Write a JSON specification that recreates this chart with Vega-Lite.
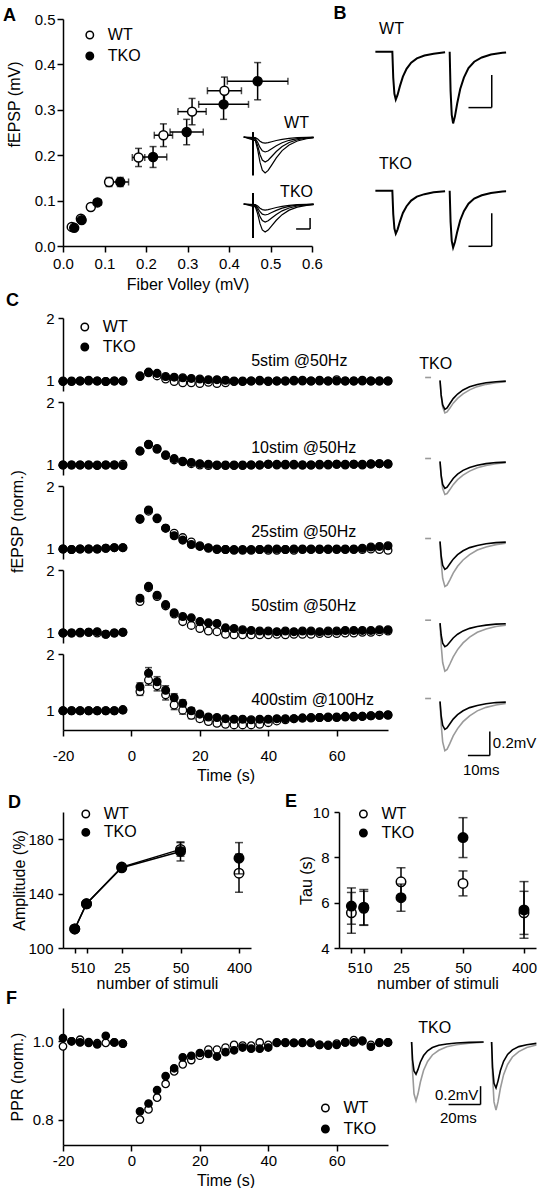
{
"$schema":"https://vega.github.io/schema/vega-lite/v6.json",
"background":"white",
"padding":{"left":3,"top":4,"right":0,"bottom":0},
"config":{
 "font":"Liberation Sans",
 "view":{"stroke":null},
 "axis":{"domainColor":"black","domainWidth":1.5,"tickColor":"black","tickWidth":1.5,"tickSize":5,"labelColor":"black","labelFontSize":15,"titleColor":"black","titleFontSize":16,"titleFontWeight":"normal","grid":false,"labelFlush":false,"labelOverlap":false},
 "legend":{"orient":"none","title":null,"symbolType":"circle","symbolSize":55,"symbolStrokeColor":"black","symbolStrokeWidth":1.5,"labelFontSize":16,"labelColor":"black","labelOffset":10,"padding":0,"rowPadding":4},
 "title":{"fontSize":18,"fontWeight":"bold","anchor":"start","frame":"bounds","color":"black"},
 "text":{"color":"black"}
},
"datasets":{
"a":[
{"g":"WT","x":0.021,"y":0.042,"xe":0,"ye":0},{"g":"WT","x":0.043,"y":0.06,"xe":0,"ye":0},{"g":"WT","x":0.067,"y":0.086,"xe":0.004,"ye":0.004},{"g":"WT","x":0.111,"y":0.141,"xe":0.008,"ye":0.01},{"g":"WT","x":0.182,"y":0.195,"xe":0.015,"ye":0.02},{"g":"WT","x":0.242,"y":0.244,"xe":0.022,"ye":0.025},{"g":"WT","x":0.311,"y":0.296,"xe":0.034,"ye":0.029},{"g":"WT","x":0.389,"y":0.342,"xe":0.041,"ye":0.03},
{"g":"TKO","x":0.027,"y":0.04,"xe":0,"ye":0},{"g":"TKO","x":0.045,"y":0.057,"xe":0,"ye":0},{"g":"TKO","x":0.083,"y":0.096,"xe":0.008,"ye":0.005},{"g":"TKO","x":0.138,"y":0.141,"xe":0.02,"ye":0.01},{"g":"TKO","x":0.217,"y":0.196,"xe":0.033,"ye":0.023},{"g":"TKO","x":0.298,"y":0.251,"xe":0.04,"ye":0.028},{"g":"TKO","x":0.387,"y":0.312,"xe":0.06,"ye":0.033},{"g":"TKO","x":0.469,"y":0.363,"xe":0.073,"ye":0.041}
],
"ai":[
{"g":"WT","a":1,"t":-4,"v":0},{"g":"WT","a":1,"t":1,"v":-0.006},{"g":"WT","a":1,"t":2,"v":-0.019},{"g":"WT","a":1,"t":3,"v":-0.039},{"g":"WT","a":1,"t":4,"v":-0.051},{"g":"WT","a":1,"t":5.2,"v":-0.055},{"g":"WT","a":1,"t":6.5,"v":-0.051},{"g":"WT","a":1,"t":8,"v":-0.043},{"g":"WT","a":1,"t":10,"v":-0.032},{"g":"WT","a":1,"t":12.5,"v":-0.021},{"g":"WT","a":1,"t":15.5,"v":-0.012},{"g":"WT","a":1,"t":19,"v":-0.006},{"g":"WT","a":1,"t":23,"v":-0.003},{"g":"WT","a":1,"t":26,"v":-0.001},
{"g":"WT","a":2,"t":-4,"v":0},{"g":"WT","a":2,"t":1,"v":-0.014},{"g":"WT","a":2,"t":2,"v":-0.048},{"g":"WT","a":2,"t":3,"v":-0.095},{"g":"WT","a":2,"t":4,"v":-0.125},{"g":"WT","a":2,"t":5.2,"v":-0.136},{"g":"WT","a":2,"t":6.5,"v":-0.127},{"g":"WT","a":2,"t":8,"v":-0.106},{"g":"WT","a":2,"t":10,"v":-0.079},{"g":"WT","a":2,"t":12.5,"v":-0.052},{"g":"WT","a":2,"t":15.5,"v":-0.03},{"g":"WT","a":2,"t":19,"v":-0.015},{"g":"WT","a":2,"t":23,"v":-0.007},{"g":"WT","a":2,"t":26,"v":-0.003},
{"g":"WT","a":3,"t":-4,"v":0},{"g":"WT","a":3,"t":1,"v":-0.023},{"g":"WT","a":3,"t":2,"v":-0.079},{"g":"WT","a":3,"t":3,"v":-0.159},{"g":"WT","a":3,"t":4,"v":-0.209},{"g":"WT","a":3,"t":5.2,"v":-0.227},{"g":"WT","a":3,"t":6.5,"v":-0.211},{"g":"WT","a":3,"t":8,"v":-0.177},{"g":"WT","a":3,"t":10,"v":-0.132},{"g":"WT","a":3,"t":12.5,"v":-0.086},{"g":"WT","a":3,"t":15.5,"v":-0.05},{"g":"WT","a":3,"t":19,"v":-0.025},{"g":"WT","a":3,"t":23,"v":-0.011},{"g":"WT","a":3,"t":26,"v":-0.005},
{"g":"WT","a":4,"t":-4,"v":0},{"g":"WT","a":4,"t":1,"v":-0.033},{"g":"WT","a":4,"t":2,"v":-0.114},{"g":"WT","a":4,"t":3,"v":-0.229},{"g":"WT","a":4,"t":4,"v":-0.301},{"g":"WT","a":4,"t":5.2,"v":-0.327},{"g":"WT","a":4,"t":6.5,"v":-0.304},{"g":"WT","a":4,"t":8,"v":-0.255},{"g":"WT","a":4,"t":10,"v":-0.19},{"g":"WT","a":4,"t":12.5,"v":-0.124},{"g":"WT","a":4,"t":15.5,"v":-0.072},{"g":"WT","a":4,"t":19,"v":-0.036},{"g":"WT","a":4,"t":23,"v":-0.016},{"g":"WT","a":4,"t":26,"v":-0.007},
{"g":"TKO","a":1,"t":-4,"v":0},{"g":"TKO","a":1,"t":1,"v":-0.006},{"g":"TKO","a":1,"t":2,"v":-0.019},{"g":"TKO","a":1,"t":3,"v":-0.039},{"g":"TKO","a":1,"t":4,"v":-0.051},{"g":"TKO","a":1,"t":5.2,"v":-0.055},{"g":"TKO","a":1,"t":6.5,"v":-0.051},{"g":"TKO","a":1,"t":8,"v":-0.043},{"g":"TKO","a":1,"t":10,"v":-0.032},{"g":"TKO","a":1,"t":12.5,"v":-0.021},{"g":"TKO","a":1,"t":15.5,"v":-0.012},{"g":"TKO","a":1,"t":19,"v":-0.006},{"g":"TKO","a":1,"t":23,"v":-0.003},{"g":"TKO","a":1,"t":26,"v":-0.001},
{"g":"TKO","a":2,"t":-4,"v":0},{"g":"TKO","a":2,"t":1,"v":-0.01},{"g":"TKO","a":2,"t":2,"v":-0.035},{"g":"TKO","a":2,"t":3,"v":-0.07},{"g":"TKO","a":2,"t":4,"v":-0.092},{"g":"TKO","a":2,"t":5.2,"v":-0.1},{"g":"TKO","a":2,"t":6.5,"v":-0.093},{"g":"TKO","a":2,"t":8,"v":-0.078},{"g":"TKO","a":2,"t":10,"v":-0.058},{"g":"TKO","a":2,"t":12.5,"v":-0.038},{"g":"TKO","a":2,"t":15.5,"v":-0.022},{"g":"TKO","a":2,"t":19,"v":-0.011},{"g":"TKO","a":2,"t":23,"v":-0.005},{"g":"TKO","a":2,"t":26,"v":-0.002},
{"g":"TKO","a":3,"t":-4,"v":0},{"g":"TKO","a":3,"t":1,"v":-0.016},{"g":"TKO","a":3,"t":2,"v":-0.057},{"g":"TKO","a":3,"t":3,"v":-0.115},{"g":"TKO","a":3,"t":4,"v":-0.151},{"g":"TKO","a":3,"t":5.2,"v":-0.164},{"g":"TKO","a":3,"t":6.5,"v":-0.153},{"g":"TKO","a":3,"t":8,"v":-0.128},{"g":"TKO","a":3,"t":10,"v":-0.095},{"g":"TKO","a":3,"t":12.5,"v":-0.062},{"g":"TKO","a":3,"t":15.5,"v":-0.036},{"g":"TKO","a":3,"t":19,"v":-0.018},{"g":"TKO","a":3,"t":23,"v":-0.008},{"g":"TKO","a":3,"t":26,"v":-0.003},
{"g":"TKO","a":4,"t":-4,"v":0},{"g":"TKO","a":4,"t":1,"v":-0.026},{"g":"TKO","a":4,"t":2,"v":-0.089},{"g":"TKO","a":4,"t":3,"v":-0.179},{"g":"TKO","a":4,"t":4,"v":-0.235},{"g":"TKO","a":4,"t":5.2,"v":-0.255},{"g":"TKO","a":4,"t":6.5,"v":-0.237},{"g":"TKO","a":4,"t":8,"v":-0.199},{"g":"TKO","a":4,"t":10,"v":-0.148},{"g":"TKO","a":4,"t":12.5,"v":-0.097},{"g":"TKO","a":4,"t":15.5,"v":-0.056},{"g":"TKO","a":4,"t":19,"v":-0.028},{"g":"TKO","a":4,"t":23,"v":-0.013},{"g":"TKO","a":4,"t":26,"v":-0.005}
],
"bt":[
{"g":"WT","s":1,"t":-7.4,"v":0},{"g":"WT","s":1,"t":0,"v":0},{"g":"WT","s":1,"t":0.4,"v":-0.16},{"g":"WT","s":1,"t":0.9,"v":-0.255},{"g":"WT","s":1,"t":1.5,"v":-0.29},{"g":"WT","s":1,"t":2.3,"v":-0.261},{"g":"WT","s":1,"t":3.3,"v":-0.209},{"g":"WT","s":1,"t":4.6,"v":-0.151},{"g":"WT","s":1,"t":6.2,"v":-0.104},{"g":"WT","s":1,"t":8.2,"v":-0.067},{"g":"WT","s":1,"t":10.7,"v":-0.041},{"g":"WT","s":1,"t":14,"v":-0.023},{"g":"WT","s":1,"t":18,"v":-0.012},{"g":"WT","s":1,"t":23,"v":-0.004},
{"g":"WT","s":2,"t":25,"v":0},{"g":"WT","s":2,"t":25.4,"v":-0.239},{"g":"WT","s":2,"t":25.9,"v":-0.383},{"g":"WT","s":2,"t":26.5,"v":-0.435},{"g":"WT","s":2,"t":27.3,"v":-0.392},{"g":"WT","s":2,"t":28.3,"v":-0.313},{"g":"WT","s":2,"t":29.6,"v":-0.226},{"g":"WT","s":2,"t":31.2,"v":-0.157},{"g":"WT","s":2,"t":33.2,"v":-0.1},{"g":"WT","s":2,"t":35.7,"v":-0.061},{"g":"WT","s":2,"t":39,"v":-0.035},{"g":"WT","s":2,"t":43,"v":-0.017},{"g":"WT","s":2,"t":48,"v":-0.007},{"g":"WT","s":2,"t":49.6,"v":-0.005},
{"g":"TKO","s":1,"t":-7.4,"v":0},{"g":"TKO","s":1,"t":0,"v":0},{"g":"TKO","s":1,"t":0.4,"v":-0.143},{"g":"TKO","s":1,"t":0.9,"v":-0.229},{"g":"TKO","s":1,"t":1.5,"v":-0.26},{"g":"TKO","s":1,"t":2.3,"v":-0.234},{"g":"TKO","s":1,"t":3.3,"v":-0.187},{"g":"TKO","s":1,"t":4.6,"v":-0.135},{"g":"TKO","s":1,"t":6.2,"v":-0.094},{"g":"TKO","s":1,"t":8.2,"v":-0.06},{"g":"TKO","s":1,"t":10.7,"v":-0.036},{"g":"TKO","s":1,"t":14,"v":-0.021},{"g":"TKO","s":1,"t":18,"v":-0.01},{"g":"TKO","s":1,"t":23,"v":-0.004},
{"g":"TKO","s":2,"t":25,"v":0},{"g":"TKO","s":2,"t":25.4,"v":-0.19},{"g":"TKO","s":2,"t":25.9,"v":-0.304},{"g":"TKO","s":2,"t":26.5,"v":-0.345},{"g":"TKO","s":2,"t":27.3,"v":-0.311},{"g":"TKO","s":2,"t":28.3,"v":-0.248},{"g":"TKO","s":2,"t":29.6,"v":-0.179},{"g":"TKO","s":2,"t":31.2,"v":-0.124},{"g":"TKO","s":2,"t":33.2,"v":-0.079},{"g":"TKO","s":2,"t":35.7,"v":-0.048},{"g":"TKO","s":2,"t":39,"v":-0.028},{"g":"TKO","s":2,"t":43,"v":-0.014},{"g":"TKO","s":2,"t":48,"v":-0.005},{"g":"TKO","s":2,"t":49.6,"v":-0.004}
],
"c":[
{"r":1,"g":"WT","t":-20,"y":1},{"r":1,"g":"WT","t":-17.5,"y":0.99},{"r":1,"g":"WT","t":-15,"y":1},{"r":1,"g":"WT","t":-12.5,"y":1},{"r":1,"g":"WT","t":-10,"y":1},{"r":1,"g":"WT","t":-7.5,"y":0.99},{"r":1,"g":"WT","t":-5,"y":1},{"r":1,"g":"WT","t":-2.5,"y":1},
{"r":1,"g":"WT","t":2.5,"y":1.08},{"r":1,"g":"WT","t":5,"y":1.13},{"r":1,"g":"WT","t":7.5,"y":1.08},{"r":1,"g":"WT","t":10,"y":1.03},{"r":1,"g":"WT","t":12.5,"y":0.99},{"r":1,"g":"WT","t":15,"y":0.97},{"r":1,"g":"WT","t":17.5,"y":0.97},{"r":1,"g":"WT","t":20,"y":0.96},{"r":1,"g":"WT","t":22.5,"y":0.98},{"r":1,"g":"WT","t":25,"y":0.96},{"r":1,"g":"WT","t":27.5,"y":0.97},{"r":1,"g":"WT","t":30,"y":0.99},{"r":1,"g":"WT","t":32.5,"y":0.99},{"r":1,"g":"WT","t":35,"y":1},{"r":1,"g":"WT","t":37.5,"y":1},{"r":1,"g":"WT","t":40,"y":0.99},{"r":1,"g":"WT","t":42.5,"y":1},{"r":1,"g":"WT","t":45,"y":1},{"r":1,"g":"WT","t":47.5,"y":1},{"r":1,"g":"WT","t":50,"y":1.01},{"r":1,"g":"WT","t":52.5,"y":1},{"r":1,"g":"WT","t":55,"y":1},{"r":1,"g":"WT","t":57.5,"y":1},{"r":1,"g":"WT","t":60,"y":1.02},{"r":1,"g":"WT","t":62.5,"y":1},{"r":1,"g":"WT","t":65,"y":1},{"r":1,"g":"WT","t":67.5,"y":1.01},{"r":1,"g":"WT","t":70,"y":1},{"r":1,"g":"WT","t":72.5,"y":1},{"r":1,"g":"WT","t":75,"y":1},
{"r":1,"g":"TKO","t":-20,"y":0.99},{"r":1,"g":"TKO","t":-17.5,"y":1},{"r":1,"g":"TKO","t":-15,"y":1},{"r":1,"g":"TKO","t":-12.5,"y":1.01},{"r":1,"g":"TKO","t":-10,"y":1},{"r":1,"g":"TKO","t":-7.5,"y":0.99},{"r":1,"g":"TKO","t":-5,"y":1},{"r":1,"g":"TKO","t":-2.5,"y":1},
{"r":1,"g":"TKO","t":2.5,"y":1.07},{"r":1,"g":"TKO","t":5,"y":1.14},{"r":1,"g":"TKO","t":7.5,"y":1.12},{"r":1,"g":"TKO","t":10,"y":1.07},{"r":1,"g":"TKO","t":12.5,"y":1.06},{"r":1,"g":"TKO","t":15,"y":1.05},{"r":1,"g":"TKO","t":17.5,"y":1.04},{"r":1,"g":"TKO","t":20,"y":1.03},{"r":1,"g":"TKO","t":22.5,"y":1.02},{"r":1,"g":"TKO","t":25,"y":1.02},{"r":1,"g":"TKO","t":27.5,"y":1.01},{"r":1,"g":"TKO","t":30,"y":1},{"r":1,"g":"TKO","t":32.5,"y":1},{"r":1,"g":"TKO","t":35,"y":1},{"r":1,"g":"TKO","t":37.5,"y":1.01},{"r":1,"g":"TKO","t":40,"y":1},{"r":1,"g":"TKO","t":42.5,"y":1},{"r":1,"g":"TKO","t":45,"y":1},{"r":1,"g":"TKO","t":47.5,"y":1.01},{"r":1,"g":"TKO","t":50,"y":1},{"r":1,"g":"TKO","t":52.5,"y":1},{"r":1,"g":"TKO","t":55,"y":1.01},{"r":1,"g":"TKO","t":57.5,"y":1},{"r":1,"g":"TKO","t":60,"y":1},{"r":1,"g":"TKO","t":62.5,"y":1},{"r":1,"g":"TKO","t":65,"y":1},{"r":1,"g":"TKO","t":67.5,"y":1},{"r":1,"g":"TKO","t":70,"y":1},{"r":1,"g":"TKO","t":72.5,"y":1},{"r":1,"g":"TKO","t":75,"y":1},
{"r":2,"g":"WT","t":-20,"y":1},{"r":2,"g":"WT","t":-17.5,"y":1},{"r":2,"g":"WT","t":-15,"y":1},{"r":2,"g":"WT","t":-12.5,"y":1},{"r":2,"g":"WT","t":-10,"y":1},{"r":2,"g":"WT","t":-7.5,"y":1},{"r":2,"g":"WT","t":-5,"y":1},{"r":2,"g":"WT","t":-2.5,"y":1.01},
{"r":2,"g":"WT","t":2.5,"y":1.22},{"r":2,"g":"WT","t":5,"y":1.32},{"r":2,"g":"WT","t":7.5,"y":1.25},{"r":2,"g":"WT","t":10,"y":1.15},{"r":2,"g":"WT","t":12.5,"y":1.08},{"r":2,"g":"WT","t":15,"y":1.05},{"r":2,"g":"WT","t":17.5,"y":1.02},{"r":2,"g":"WT","t":20,"y":1},{"r":2,"g":"WT","t":22.5,"y":0.99},{"r":2,"g":"WT","t":25,"y":0.99},{"r":2,"g":"WT","t":27.5,"y":0.99},{"r":2,"g":"WT","t":30,"y":0.99},{"r":2,"g":"WT","t":32.5,"y":0.99},{"r":2,"g":"WT","t":35,"y":1},{"r":2,"g":"WT","t":37.5,"y":1},{"r":2,"g":"WT","t":40,"y":1.01},{"r":2,"g":"WT","t":42.5,"y":1},{"r":2,"g":"WT","t":45,"y":1},{"r":2,"g":"WT","t":47.5,"y":1},{"r":2,"g":"WT","t":50,"y":1},{"r":2,"g":"WT","t":52.5,"y":1},{"r":2,"g":"WT","t":55,"y":1},{"r":2,"g":"WT","t":57.5,"y":1},{"r":2,"g":"WT","t":60,"y":1.01},{"r":2,"g":"WT","t":62.5,"y":1},{"r":2,"g":"WT","t":65,"y":1.01},{"r":2,"g":"WT","t":67.5,"y":1},{"r":2,"g":"WT","t":70,"y":1.01},{"r":2,"g":"WT","t":72.5,"y":1.02},{"r":2,"g":"WT","t":75,"y":1.01},
{"r":2,"g":"TKO","t":-20,"y":1},{"r":2,"g":"TKO","t":-17.5,"y":1},{"r":2,"g":"TKO","t":-15,"y":1},{"r":2,"g":"TKO","t":-12.5,"y":1},{"r":2,"g":"TKO","t":-10,"y":0.99},{"r":2,"g":"TKO","t":-7.5,"y":1},{"r":2,"g":"TKO","t":-5,"y":1},{"r":2,"g":"TKO","t":-2.5,"y":0.99},
{"r":2,"g":"TKO","t":2.5,"y":1.22},{"r":2,"g":"TKO","t":5,"y":1.33},{"r":2,"g":"TKO","t":7.5,"y":1.26},{"r":2,"g":"TKO","t":10,"y":1.16},{"r":2,"g":"TKO","t":12.5,"y":1.1},{"r":2,"g":"TKO","t":15,"y":1.06},{"r":2,"g":"TKO","t":17.5,"y":1.04},{"r":2,"g":"TKO","t":20,"y":1.02},{"r":2,"g":"TKO","t":22.5,"y":1.01},{"r":2,"g":"TKO","t":25,"y":1},{"r":2,"g":"TKO","t":27.5,"y":1},{"r":2,"g":"TKO","t":30,"y":1},{"r":2,"g":"TKO","t":32.5,"y":1},{"r":2,"g":"TKO","t":35,"y":1},{"r":2,"g":"TKO","t":37.5,"y":1},{"r":2,"g":"TKO","t":40,"y":1.01},{"r":2,"g":"TKO","t":42.5,"y":1.01},{"r":2,"g":"TKO","t":45,"y":1.01},{"r":2,"g":"TKO","t":47.5,"y":1.01},{"r":2,"g":"TKO","t":50,"y":1},{"r":2,"g":"TKO","t":52.5,"y":1},{"r":2,"g":"TKO","t":55,"y":1.01},{"r":2,"g":"TKO","t":57.5,"y":1.01},{"r":2,"g":"TKO","t":60,"y":1.01},{"r":2,"g":"TKO","t":62.5,"y":1.01},{"r":2,"g":"TKO","t":65,"y":1.01},{"r":2,"g":"TKO","t":67.5,"y":1.01},{"r":2,"g":"TKO","t":70,"y":1.02},{"r":2,"g":"TKO","t":72.5,"y":1.02},{"r":2,"g":"TKO","t":75,"y":1.02},
{"r":3,"g":"WT","t":-20,"y":1},{"r":3,"g":"WT","t":-17.5,"y":0.99},{"r":3,"g":"WT","t":-15,"y":1},{"r":3,"g":"WT","t":-12.5,"y":1},{"r":3,"g":"WT","t":-10,"y":1},{"r":3,"g":"WT","t":-7.5,"y":1.01},{"r":3,"g":"WT","t":-5,"y":1.02},{"r":3,"g":"WT","t":-2.5,"y":1.02},
{"r":3,"g":"WT","t":2.5,"y":1.47},{"r":3,"g":"WT","t":5,"y":1.6},{"r":3,"g":"WT","t":7.5,"y":1.48},{"r":3,"g":"WT","t":10,"y":1.33},{"r":3,"g":"WT","t":12.5,"y":1.25},{"r":3,"g":"WT","t":15,"y":1.18},{"r":3,"g":"WT","t":17.5,"y":1.11},{"r":3,"g":"WT","t":20,"y":1.05},{"r":3,"g":"WT","t":22.5,"y":1.01},{"r":3,"g":"WT","t":25,"y":0.99},{"r":3,"g":"WT","t":27.5,"y":0.99},{"r":3,"g":"WT","t":30,"y":0.98},{"r":3,"g":"WT","t":32.5,"y":0.98},{"r":3,"g":"WT","t":35,"y":0.98},{"r":3,"g":"WT","t":37.5,"y":0.99},{"r":3,"g":"WT","t":40,"y":0.98},{"r":3,"g":"WT","t":42.5,"y":0.98},{"r":3,"g":"WT","t":45,"y":0.99},{"r":3,"g":"WT","t":47.5,"y":0.98},{"r":3,"g":"WT","t":50,"y":0.99},{"r":3,"g":"WT","t":52.5,"y":0.99},{"r":3,"g":"WT","t":55,"y":0.99},{"r":3,"g":"WT","t":57.5,"y":0.99},{"r":3,"g":"WT","t":60,"y":0.99},{"r":3,"g":"WT","t":62.5,"y":0.99},{"r":3,"g":"WT","t":65,"y":0.99},{"r":3,"g":"WT","t":67.5,"y":0.99},{"r":3,"g":"WT","t":70,"y":1},{"r":3,"g":"WT","t":72.5,"y":0.99},{"r":3,"g":"WT","t":75,"y":0.98},
{"r":3,"g":"TKO","t":-20,"y":1},{"r":3,"g":"TKO","t":-17.5,"y":0.99},{"r":3,"g":"TKO","t":-15,"y":1},{"r":3,"g":"TKO","t":-12.5,"y":1},{"r":3,"g":"TKO","t":-10,"y":1},{"r":3,"g":"TKO","t":-7.5,"y":1.01},{"r":3,"g":"TKO","t":-5,"y":1.02},{"r":3,"g":"TKO","t":-2.5,"y":1.02},
{"r":3,"g":"TKO","t":2.5,"y":1.48},{"r":3,"g":"TKO","t":5,"y":1.62},{"r":3,"g":"TKO","t":7.5,"y":1.49},{"r":3,"g":"TKO","t":10,"y":1.33},{"r":3,"g":"TKO","t":12.5,"y":1.21},{"r":3,"g":"TKO","t":15,"y":1.14},{"r":3,"g":"TKO","t":17.5,"y":1.07},{"r":3,"g":"TKO","t":20,"y":1.04},{"r":3,"g":"TKO","t":22.5,"y":1.02},{"r":3,"g":"TKO","t":25,"y":1},{"r":3,"g":"TKO","t":27.5,"y":0.99},{"r":3,"g":"TKO","t":30,"y":0.99},{"r":3,"g":"TKO","t":32.5,"y":0.99},{"r":3,"g":"TKO","t":35,"y":0.99},{"r":3,"g":"TKO","t":37.5,"y":0.99},{"r":3,"g":"TKO","t":40,"y":1},{"r":3,"g":"TKO","t":42.5,"y":1},{"r":3,"g":"TKO","t":45,"y":0.99},{"r":3,"g":"TKO","t":47.5,"y":1},{"r":3,"g":"TKO","t":50,"y":1},{"r":3,"g":"TKO","t":52.5,"y":1},{"r":3,"g":"TKO","t":55,"y":1},{"r":3,"g":"TKO","t":57.5,"y":1},{"r":3,"g":"TKO","t":60,"y":1},{"r":3,"g":"TKO","t":62.5,"y":1},{"r":3,"g":"TKO","t":65,"y":1},{"r":3,"g":"TKO","t":67.5,"y":1.01},{"r":3,"g":"TKO","t":70,"y":1.03},{"r":3,"g":"TKO","t":72.5,"y":1.04},{"r":3,"g":"TKO","t":75,"y":1.05},
{"r":4,"g":"WT","t":-20,"y":1},{"r":4,"g":"WT","t":-17.5,"y":1},{"r":4,"g":"WT","t":-15,"y":1},{"r":4,"g":"WT","t":-12.5,"y":1.01},{"r":4,"g":"WT","t":-10,"y":1},{"r":4,"g":"WT","t":-7.5,"y":0.98},{"r":4,"g":"WT","t":-5,"y":1},{"r":4,"g":"WT","t":-2.5,"y":1.01},
{"r":4,"g":"WT","t":2.5,"y":1.5},{"r":4,"g":"WT","t":5,"y":1.72},{"r":4,"g":"WT","t":7.5,"y":1.58},{"r":4,"g":"WT","t":10,"y":1.43},{"r":4,"g":"WT","t":12.5,"y":1.3},{"r":4,"g":"WT","t":15,"y":1.18},{"r":4,"g":"WT","t":17.5,"y":1.12},{"r":4,"g":"WT","t":20,"y":1.07},{"r":4,"g":"WT","t":22.5,"y":1.03},{"r":4,"g":"WT","t":25,"y":1.02},{"r":4,"g":"WT","t":27.5,"y":0.98},{"r":4,"g":"WT","t":30,"y":0.97},{"r":4,"g":"WT","t":32.5,"y":0.97},{"r":4,"g":"WT","t":35,"y":0.97},{"r":4,"g":"WT","t":37.5,"y":0.97},{"r":4,"g":"WT","t":40,"y":0.97},{"r":4,"g":"WT","t":42.5,"y":0.98},{"r":4,"g":"WT","t":45,"y":0.97},{"r":4,"g":"WT","t":47.5,"y":0.98},{"r":4,"g":"WT","t":50,"y":0.98},{"r":4,"g":"WT","t":52.5,"y":0.98},{"r":4,"g":"WT","t":55,"y":0.99},{"r":4,"g":"WT","t":57.5,"y":0.99},{"r":4,"g":"WT","t":60,"y":0.99},{"r":4,"g":"WT","t":62.5,"y":1},{"r":4,"g":"WT","t":65,"y":1},{"r":4,"g":"WT","t":67.5,"y":1.01},{"r":4,"g":"WT","t":70,"y":1.01},{"r":4,"g":"WT","t":72.5,"y":1.02},{"r":4,"g":"WT","t":75,"y":1.03},
{"r":4,"g":"TKO","t":-20,"y":1},{"r":4,"g":"TKO","t":-17.5,"y":1},{"r":4,"g":"TKO","t":-15,"y":1.01},{"r":4,"g":"TKO","t":-12.5,"y":1.01},{"r":4,"g":"TKO","t":-10,"y":1.02},{"r":4,"g":"TKO","t":-7.5,"y":0.98},{"r":4,"g":"TKO","t":-5,"y":1},{"r":4,"g":"TKO","t":-2.5,"y":1.01},
{"r":4,"g":"TKO","t":2.5,"y":1.55},{"r":4,"g":"TKO","t":5,"y":1.74},{"r":4,"g":"TKO","t":7.5,"y":1.6},{"r":4,"g":"TKO","t":10,"y":1.45},{"r":4,"g":"TKO","t":12.5,"y":1.32},{"r":4,"g":"TKO","t":15,"y":1.26},{"r":4,"g":"TKO","t":17.5,"y":1.24},{"r":4,"g":"TKO","t":20,"y":1.18},{"r":4,"g":"TKO","t":22.5,"y":1.16},{"r":4,"g":"TKO","t":25,"y":1.15},{"r":4,"g":"TKO","t":27.5,"y":1.08},{"r":4,"g":"TKO","t":30,"y":1.07},{"r":4,"g":"TKO","t":32.5,"y":1.05},{"r":4,"g":"TKO","t":35,"y":1.04},{"r":4,"g":"TKO","t":37.5,"y":1.03},{"r":4,"g":"TKO","t":40,"y":1.03},{"r":4,"g":"TKO","t":42.5,"y":1.02},{"r":4,"g":"TKO","t":45,"y":1.03},{"r":4,"g":"TKO","t":47.5,"y":1.02},{"r":4,"g":"TKO","t":50,"y":1.03},{"r":4,"g":"TKO","t":52.5,"y":1.03},{"r":4,"g":"TKO","t":55,"y":1.02},{"r":4,"g":"TKO","t":57.5,"y":1.03},{"r":4,"g":"TKO","t":60,"y":1.03},{"r":4,"g":"TKO","t":62.5,"y":1.04},{"r":4,"g":"TKO","t":65,"y":1.04},{"r":4,"g":"TKO","t":67.5,"y":1.04},{"r":4,"g":"TKO","t":70,"y":1.04},{"r":4,"g":"TKO","t":72.5,"y":1.05},{"r":4,"g":"TKO","t":75,"y":1.05},
{"r":5,"g":"WT","t":-20,"y":1},{"r":5,"g":"WT","t":-17.5,"y":1},{"r":5,"g":"WT","t":-15,"y":1},{"r":5,"g":"WT","t":-12.5,"y":1},{"r":5,"g":"WT","t":-10,"y":1},{"r":5,"g":"WT","t":-7.5,"y":1},{"r":5,"g":"WT","t":-5,"y":1},{"r":5,"g":"WT","t":-2.5,"y":1.02},
{"r":5,"g":"WT","t":2.5,"y":1.34,"e":0.07},{"r":5,"g":"WT","t":5,"y":1.54,"e":0.09},{"r":5,"g":"WT","t":7.5,"y":1.44,"e":0.09},{"r":5,"g":"WT","t":10,"y":1.28,"e":0.09},{"r":5,"g":"WT","t":12.5,"y":1.1,"e":0.08},{"r":5,"g":"WT","t":15,"y":1.01,"e":0.07},{"r":5,"g":"WT","t":17.5,"y":0.92,"e":0.06},{"r":5,"g":"WT","t":20,"y":0.86,"e":0.05},{"r":5,"g":"WT","t":22.5,"y":0.81,"e":0.045},{"r":5,"g":"WT","t":25,"y":0.78,"e":0.04},{"r":5,"g":"WT","t":27.5,"y":0.76,"e":0.035},{"r":5,"g":"WT","t":30,"y":0.75,"e":0.03},{"r":5,"g":"WT","t":32.5,"y":0.75,"e":0.03},{"r":5,"g":"WT","t":35,"y":0.75,"e":0.03},{"r":5,"g":"WT","t":37.5,"y":0.76,"e":0.03},{"r":5,"g":"WT","t":40,"y":0.79,"e":0.03},{"r":5,"g":"WT","t":42.5,"y":0.82,"e":0.03},{"r":5,"g":"WT","t":45,"y":0.84,"e":0.03},{"r":5,"g":"WT","t":47.5,"y":0.86,"e":0.03},{"r":5,"g":"WT","t":50,"y":0.87,"e":0.03},{"r":5,"g":"WT","t":52.5,"y":0.88,"e":0.02},{"r":5,"g":"WT","t":55,"y":0.88,"e":0.02},{"r":5,"g":"WT","t":57.5,"y":0.89,"e":0.02},{"r":5,"g":"WT","t":60,"y":0.89,"e":0.02},{"r":5,"g":"WT","t":62.5,"y":0.9,"e":0.02},{"r":5,"g":"WT","t":65,"y":0.9,"e":0.02},{"r":5,"g":"WT","t":67.5,"y":0.9,"e":0.02},{"r":5,"g":"WT","t":70,"y":0.91,"e":0.02},{"r":5,"g":"WT","t":72.5,"y":0.92,"e":0.02},{"r":5,"g":"WT","t":75,"y":0.92,"e":0.02},
{"r":5,"g":"TKO","t":-20,"y":1},{"r":5,"g":"TKO","t":-17.5,"y":1},{"r":5,"g":"TKO","t":-15,"y":1},{"r":5,"g":"TKO","t":-12.5,"y":1},{"r":5,"g":"TKO","t":-10,"y":1},{"r":5,"g":"TKO","t":-7.5,"y":1},{"r":5,"g":"TKO","t":-5,"y":1},{"r":5,"g":"TKO","t":-2.5,"y":1.01},
{"r":5,"g":"TKO","t":2.5,"y":1.42,"e":0.07},{"r":5,"g":"TKO","t":5,"y":1.66,"e":0.1},{"r":5,"g":"TKO","t":7.5,"y":1.51,"e":0.09},{"r":5,"g":"TKO","t":10,"y":1.36,"e":0.08},{"r":5,"g":"TKO","t":12.5,"y":1.23,"e":0.07},{"r":5,"g":"TKO","t":15,"y":1.13,"e":0.06},{"r":5,"g":"TKO","t":17.5,"y":1,"e":0.05},{"r":5,"g":"TKO","t":20,"y":0.94,"e":0.045},{"r":5,"g":"TKO","t":22.5,"y":0.89,"e":0.04},{"r":5,"g":"TKO","t":25,"y":0.88,"e":0.035},{"r":5,"g":"TKO","t":27.5,"y":0.86,"e":0.03},{"r":5,"g":"TKO","t":30,"y":0.85,"e":0.03},{"r":5,"g":"TKO","t":32.5,"y":0.85,"e":0.03},{"r":5,"g":"TKO","t":35,"y":0.84,"e":0.03},{"r":5,"g":"TKO","t":37.5,"y":0.85,"e":0.03},{"r":5,"g":"TKO","t":40,"y":0.85,"e":0.03},{"r":5,"g":"TKO","t":42.5,"y":0.86,"e":0.025},{"r":5,"g":"TKO","t":45,"y":0.86,"e":0.025},{"r":5,"g":"TKO","t":47.5,"y":0.86,"e":0.025},{"r":5,"g":"TKO","t":50,"y":0.87,"e":0.025},{"r":5,"g":"TKO","t":52.5,"y":0.87,"e":0.02},{"r":5,"g":"TKO","t":55,"y":0.88,"e":0.02},{"r":5,"g":"TKO","t":57.5,"y":0.88,"e":0.02},{"r":5,"g":"TKO","t":60,"y":0.88,"e":0.02},{"r":5,"g":"TKO","t":62.5,"y":0.89,"e":0.02},{"r":5,"g":"TKO","t":65,"y":0.89,"e":0.02},{"r":5,"g":"TKO","t":67.5,"y":0.9,"e":0.02},{"r":5,"g":"TKO","t":70,"y":0.91,"e":0.02},{"r":5,"g":"TKO","t":72.5,"y":0.92,"e":0.02},{"r":5,"g":"TKO","t":75,"y":0.93,"e":0.02}
],
"ct":[
{"r":1,"c":"g","s":0,"t":-6.8,"v":0.025},{"r":1,"c":"g","s":0,"t":-4.1,"v":0.025},
{"r":1,"c":"g","s":1,"t":0,"v":0},{"r":1,"c":"g","s":1,"t":0.5,"v":-0.122},{"r":1,"c":"g","s":1,"t":1.2,"v":-0.221},{"r":1,"c":"g","s":1,"t":2.2,"v":-0.27},{"r":1,"c":"g","s":1,"t":3.2,"v":-0.262},{"r":1,"c":"g","s":1,"t":4.5,"v":-0.23},{"r":1,"c":"g","s":1,"t":6,"v":-0.189},{"r":1,"c":"g","s":1,"t":8,"v":-0.149},{"r":1,"c":"g","s":1,"t":10.5,"v":-0.111},{"r":1,"c":"g","s":1,"t":13.5,"v":-0.078},{"r":1,"c":"g","s":1,"t":17,"v":-0.051},{"r":1,"c":"g","s":1,"t":21,"v":-0.032},{"r":1,"c":"g","s":1,"t":25.5,"v":-0.019},{"r":1,"c":"g","s":1,"t":30,"v":-0.011},
{"r":1,"c":"b","s":1,"t":0,"v":0},{"r":1,"c":"b","s":1,"t":0.5,"v":-0.12},{"r":1,"c":"b","s":1,"t":1.2,"v":-0.204},{"r":1,"c":"b","s":1,"t":2.2,"v":-0.24},{"r":1,"c":"b","s":1,"t":3.2,"v":-0.228},{"r":1,"c":"b","s":1,"t":4.5,"v":-0.192},{"r":1,"c":"b","s":1,"t":6,"v":-0.151},{"r":1,"c":"b","s":1,"t":8,"v":-0.113},{"r":1,"c":"b","s":1,"t":10.5,"v":-0.079},{"r":1,"c":"b","s":1,"t":13.5,"v":-0.053},{"r":1,"c":"b","s":1,"t":17,"v":-0.034},{"r":1,"c":"b","s":1,"t":21,"v":-0.019},{"r":1,"c":"b","s":1,"t":25.5,"v":-0.01},{"r":1,"c":"b","s":1,"t":30,"v":-0.005},
{"r":2,"c":"g","s":0,"t":-6.8,"v":0.025},{"r":2,"c":"g","s":0,"t":-4.1,"v":0.025},
{"r":2,"c":"g","s":1,"t":0,"v":0},{"r":2,"c":"g","s":1,"t":0.5,"v":-0.124},{"r":2,"c":"g","s":1,"t":1.2,"v":-0.226},{"r":2,"c":"g","s":1,"t":2.2,"v":-0.275},{"r":2,"c":"g","s":1,"t":3.2,"v":-0.267},{"r":2,"c":"g","s":1,"t":4.5,"v":-0.234},{"r":2,"c":"g","s":1,"t":6,"v":-0.193},{"r":2,"c":"g","s":1,"t":8,"v":-0.151},{"r":2,"c":"g","s":1,"t":10.5,"v":-0.113},{"r":2,"c":"g","s":1,"t":13.5,"v":-0.08},{"r":2,"c":"g","s":1,"t":17,"v":-0.052},{"r":2,"c":"g","s":1,"t":21,"v":-0.033},{"r":2,"c":"g","s":1,"t":25.5,"v":-0.019},{"r":2,"c":"g","s":1,"t":30,"v":-0.011},
{"r":2,"c":"b","s":1,"t":0,"v":0},{"r":2,"c":"b","s":1,"t":0.5,"v":-0.113},{"r":2,"c":"b","s":1,"t":1.2,"v":-0.191},{"r":2,"c":"b","s":1,"t":2.2,"v":-0.225},{"r":2,"c":"b","s":1,"t":3.2,"v":-0.214},{"r":2,"c":"b","s":1,"t":4.5,"v":-0.18},{"r":2,"c":"b","s":1,"t":6,"v":-0.142},{"r":2,"c":"b","s":1,"t":8,"v":-0.106},{"r":2,"c":"b","s":1,"t":10.5,"v":-0.074},{"r":2,"c":"b","s":1,"t":13.5,"v":-0.05},{"r":2,"c":"b","s":1,"t":17,"v":-0.032},{"r":2,"c":"b","s":1,"t":21,"v":-0.018},{"r":2,"c":"b","s":1,"t":25.5,"v":-0.009},{"r":2,"c":"b","s":1,"t":30,"v":-0.005},
{"r":3,"c":"g","s":0,"t":-6.8,"v":0.025},{"r":3,"c":"g","s":0,"t":-4.1,"v":0.025},
{"r":3,"c":"g","s":1,"t":0,"v":0},{"r":3,"c":"g","s":1,"t":0.5,"v":-0.169},{"r":3,"c":"g","s":1,"t":1.2,"v":-0.308},{"r":3,"c":"g","s":1,"t":2.2,"v":-0.375},{"r":3,"c":"g","s":1,"t":3.2,"v":-0.364},{"r":3,"c":"g","s":1,"t":4.5,"v":-0.319},{"r":3,"c":"g","s":1,"t":6,"v":-0.263},{"r":3,"c":"g","s":1,"t":8,"v":-0.206},{"r":3,"c":"g","s":1,"t":10.5,"v":-0.154},{"r":3,"c":"g","s":1,"t":13.5,"v":-0.109},{"r":3,"c":"g","s":1,"t":17,"v":-0.071},{"r":3,"c":"g","s":1,"t":21,"v":-0.045},{"r":3,"c":"g","s":1,"t":25.5,"v":-0.026},{"r":3,"c":"g","s":1,"t":30,"v":-0.015},
{"r":3,"c":"b","s":1,"t":0,"v":0},{"r":3,"c":"b","s":1,"t":0.5,"v":-0.117},{"r":3,"c":"b","s":1,"t":1.2,"v":-0.198},{"r":3,"c":"b","s":1,"t":2.2,"v":-0.233},{"r":3,"c":"b","s":1,"t":3.2,"v":-0.221},{"r":3,"c":"b","s":1,"t":4.5,"v":-0.186},{"r":3,"c":"b","s":1,"t":6,"v":-0.147},{"r":3,"c":"b","s":1,"t":8,"v":-0.11},{"r":3,"c":"b","s":1,"t":10.5,"v":-0.077},{"r":3,"c":"b","s":1,"t":13.5,"v":-0.051},{"r":3,"c":"b","s":1,"t":17,"v":-0.033},{"r":3,"c":"b","s":1,"t":21,"v":-0.019},{"r":3,"c":"b","s":1,"t":25.5,"v":-0.009},{"r":3,"c":"b","s":1,"t":30,"v":-0.005},
{"r":4,"c":"g","s":0,"t":-6.8,"v":0.025},{"r":4,"c":"g","s":0,"t":-4.1,"v":0.025},
{"r":4,"c":"g","s":1,"t":0,"v":0},{"r":4,"c":"g","s":1,"t":0.5,"v":-0.18},{"r":4,"c":"g","s":1,"t":1.2,"v":-0.328},{"r":4,"c":"g","s":1,"t":2.2,"v":-0.4},{"r":4,"c":"g","s":1,"t":3.2,"v":-0.388},{"r":4,"c":"g","s":1,"t":4.5,"v":-0.34},{"r":4,"c":"g","s":1,"t":6,"v":-0.28},{"r":4,"c":"g","s":1,"t":8,"v":-0.22},{"r":4,"c":"g","s":1,"t":10.5,"v":-0.164},{"r":4,"c":"g","s":1,"t":13.5,"v":-0.116},{"r":4,"c":"g","s":1,"t":17,"v":-0.076},{"r":4,"c":"g","s":1,"t":21,"v":-0.048},{"r":4,"c":"g","s":1,"t":25.5,"v":-0.028},{"r":4,"c":"g","s":1,"t":30,"v":-0.016},
{"r":4,"c":"b","s":1,"t":0,"v":0},{"r":4,"c":"b","s":1,"t":0.5,"v":-0.098},{"r":4,"c":"b","s":1,"t":1.2,"v":-0.166},{"r":4,"c":"b","s":1,"t":2.2,"v":-0.195},{"r":4,"c":"b","s":1,"t":3.2,"v":-0.185},{"r":4,"c":"b","s":1,"t":4.5,"v":-0.156},{"r":4,"c":"b","s":1,"t":6,"v":-0.123},{"r":4,"c":"b","s":1,"t":8,"v":-0.092},{"r":4,"c":"b","s":1,"t":10.5,"v":-0.064},{"r":4,"c":"b","s":1,"t":13.5,"v":-0.043},{"r":4,"c":"b","s":1,"t":17,"v":-0.027},{"r":4,"c":"b","s":1,"t":21,"v":-0.016},{"r":4,"c":"b","s":1,"t":25.5,"v":-0.008},{"r":4,"c":"b","s":1,"t":30,"v":-0.004},
{"r":5,"c":"g","s":0,"t":-6.8,"v":0.025},{"r":5,"c":"g","s":0,"t":-4.1,"v":0.025},
{"r":5,"c":"g","s":1,"t":0,"v":0},{"r":5,"c":"g","s":1,"t":0.5,"v":-0.185},{"r":5,"c":"g","s":1,"t":1.2,"v":-0.336},{"r":5,"c":"g","s":1,"t":2.2,"v":-0.41},{"r":5,"c":"g","s":1,"t":3.2,"v":-0.398},{"r":5,"c":"g","s":1,"t":4.5,"v":-0.349},{"r":5,"c":"g","s":1,"t":6,"v":-0.287},{"r":5,"c":"g","s":1,"t":8,"v":-0.226},{"r":5,"c":"g","s":1,"t":10.5,"v":-0.168},{"r":5,"c":"g","s":1,"t":13.5,"v":-0.119},{"r":5,"c":"g","s":1,"t":17,"v":-0.078},{"r":5,"c":"g","s":1,"t":21,"v":-0.049},{"r":5,"c":"g","s":1,"t":25.5,"v":-0.029},{"r":5,"c":"g","s":1,"t":30,"v":-0.016},
{"r":5,"c":"b","s":1,"t":0,"v":0},{"r":5,"c":"b","s":1,"t":0.5,"v":-0.117},{"r":5,"c":"b","s":1,"t":1.2,"v":-0.198},{"r":5,"c":"b","s":1,"t":2.2,"v":-0.233},{"r":5,"c":"b","s":1,"t":3.2,"v":-0.221},{"r":5,"c":"b","s":1,"t":4.5,"v":-0.186},{"r":5,"c":"b","s":1,"t":6,"v":-0.147},{"r":5,"c":"b","s":1,"t":8,"v":-0.11},{"r":5,"c":"b","s":1,"t":10.5,"v":-0.077},{"r":5,"c":"b","s":1,"t":13.5,"v":-0.051},{"r":5,"c":"b","s":1,"t":17,"v":-0.033},{"r":5,"c":"b","s":1,"t":21,"v":-0.019},{"r":5,"c":"b","s":1,"t":25.5,"v":-0.009},{"r":5,"c":"b","s":1,"t":30,"v":-0.005}
],
"d":[
{"g":"WT","n":5,"y":114,"e":0},{"g":"WT","n":10,"y":132.5,"e":0},{"g":"WT","n":25,"y":159.5,"e":0},{"g":"WT","n":50,"y":172.5,"e":5},{"g":"WT","n":400,"y":155,"e":14},
{"g":"TKO","n":5,"y":114,"e":0},{"g":"TKO","n":10,"y":132.5,"e":0},{"g":"TKO","n":25,"y":159,"e":0},{"g":"TKO","n":50,"y":171,"e":7},{"g":"TKO","n":400,"y":166,"e":11.5}
],
"e":[
{"g":"WT","n":5,"y":5.55,"e":0.9},{"g":"WT","n":10,"y":5.75,"e":0.75},{"g":"WT","n":25,"y":6.92,"e":0.62},{"g":"WT","n":50,"y":6.85,"e":0.55},{"g":"WT","n":400,"y":5.55,"e":0.95},
{"g":"TKO","n":5,"y":5.85,"e":0.8},{"g":"TKO","n":10,"y":5.8,"e":0.78},{"g":"TKO","n":25,"y":6.22,"e":0.6},{"g":"TKO","n":50,"y":8.87,"e":0.88},{"g":"TKO","n":400,"y":5.68,"e":1.25}
],
"f":[
{"g":"WT","t":-20,"y":0.987},{"g":"WT","t":-17.5,"y":1},{"g":"WT","t":-15,"y":1.004},{"g":"WT","t":-12.5,"y":0.998},{"g":"WT","t":-10,"y":0.995},{"g":"WT","t":-7.5,"y":0.996},{"g":"WT","t":-5,"y":0.997},{"g":"WT","t":-2.5,"y":0.994},
{"g":"WT","t":2.5,"y":0.8},{"g":"WT","t":5,"y":0.826},{"g":"WT","t":7.5,"y":0.856},{"g":"WT","t":10,"y":0.891},{"g":"WT","t":12.5,"y":0.923},{"g":"WT","t":15,"y":0.941},{"g":"WT","t":17.5,"y":0.952},{"g":"WT","t":20,"y":0.963},{"g":"WT","t":22.5,"y":0.979},{"g":"WT","t":25,"y":0.979},{"g":"WT","t":27.5,"y":0.984},{"g":"WT","t":30,"y":0.991},{"g":"WT","t":32.5,"y":0.989},{"g":"WT","t":35,"y":0.989},{"g":"WT","t":37.5,"y":0.997},{"g":"WT","t":40,"y":0.991},{"g":"WT","t":42.5,"y":0.996},{"g":"WT","t":45,"y":0.996},{"g":"WT","t":47.5,"y":0.996},{"g":"WT","t":50,"y":0.996},{"g":"WT","t":52.5,"y":0.996},{"g":"WT","t":55,"y":0.991},{"g":"WT","t":57.5,"y":0.991},{"g":"WT","t":60,"y":0.994},{"g":"WT","t":62.5,"y":0.997},{"g":"WT","t":65,"y":1.003},{"g":"WT","t":67.5,"y":1},{"g":"WT","t":70,"y":0.991},{"g":"WT","t":72.5,"y":0.996},{"g":"WT","t":75,"y":0.997},
{"g":"TKO","t":-20,"y":1.008},{"g":"TKO","t":-17.5,"y":1},{"g":"TKO","t":-15,"y":0.997},{"g":"TKO","t":-12.5,"y":0.996},{"g":"TKO","t":-10,"y":0.992},{"g":"TKO","t":-7.5,"y":1.014},{"g":"TKO","t":-5,"y":0.997},{"g":"TKO","t":-2.5,"y":0.994},
{"g":"TKO","t":2.5,"y":0.821},{"g":"TKO","t":5,"y":0.841},{"g":"TKO","t":7.5,"y":0.875},{"g":"TKO","t":10,"y":0.911},{"g":"TKO","t":12.5,"y":0.931},{"g":"TKO","t":15,"y":0.959},{"g":"TKO","t":17.5,"y":0.963},{"g":"TKO","t":20,"y":0.97},{"g":"TKO","t":22.5,"y":0.968},{"g":"TKO","t":25,"y":0.961},{"g":"TKO","t":27.5,"y":0.972},{"g":"TKO","t":30,"y":0.977},{"g":"TKO","t":32.5,"y":0.984},{"g":"TKO","t":35,"y":0.981},{"g":"TKO","t":37.5,"y":0.981},{"g":"TKO","t":40,"y":0.984},{"g":"TKO","t":42.5,"y":0.997},{"g":"TKO","t":45,"y":0.997},{"g":"TKO","t":47.5,"y":0.996},{"g":"TKO","t":50,"y":0.997},{"g":"TKO","t":52.5,"y":0.996},{"g":"TKO","t":55,"y":0.991},{"g":"TKO","t":57.5,"y":0.989},{"g":"TKO","t":60,"y":0.991},{"g":"TKO","t":62.5,"y":0.997},{"g":"TKO","t":65,"y":0.997},{"g":"TKO","t":67.5,"y":1.002},{"g":"TKO","t":70,"y":0.986},{"g":"TKO","t":72.5,"y":0.997},{"g":"TKO","t":75,"y":0.997}
],
"ft":[
{"c":"g","s":1,"t":0,"v":0},{"c":"g","s":1,"t":0.6,"v":-0.32},{"c":"g","s":1,"t":1.5,"v":-0.563},{"c":"g","s":1,"t":2.75,"v":-0.64},{"c":"g","s":1,"t":4,"v":-0.563},{"c":"g","s":1,"t":5.5,"v":-0.435},{"c":"g","s":1,"t":7.5,"v":-0.307},{"c":"g","s":1,"t":10,"v":-0.211},{"c":"g","s":1,"t":13,"v":-0.141},{"c":"g","s":1,"t":17,"v":-0.09},{"c":"g","s":1,"t":22,"v":-0.051},{"c":"g","s":1,"t":28,"v":-0.029},{"c":"g","s":1,"t":36,"v":-0.013},{"c":"g","s":1,"t":45,"v":-0.003},
{"c":"g","s":2,"t":50,"v":0},{"c":"g","s":2,"t":50.6,"v":-0.37},{"c":"g","s":2,"t":51.5,"v":-0.651},{"c":"g","s":2,"t":52.75,"v":-0.74},{"c":"g","s":2,"t":54,"v":-0.651},{"c":"g","s":2,"t":55.5,"v":-0.503},{"c":"g","s":2,"t":57.5,"v":-0.355},{"c":"g","s":2,"t":60,"v":-0.244},{"c":"g","s":2,"t":63,"v":-0.163},{"c":"g","s":2,"t":67,"v":-0.104},{"c":"g","s":2,"t":72,"v":-0.059},{"c":"g","s":2,"t":78,"v":-0.033},
{"c":"b","s":1,"t":0,"v":0},{"c":"b","s":1,"t":0.6,"v":-0.193},{"c":"b","s":1,"t":1.5,"v":-0.315},{"c":"b","s":1,"t":2.75,"v":-0.35},{"c":"b","s":1,"t":4,"v":-0.298},{"c":"b","s":1,"t":5.5,"v":-0.217},{"c":"b","s":1,"t":7.5,"v":-0.147},{"c":"b","s":1,"t":10,"v":-0.095},{"c":"b","s":1,"t":13,"v":-0.06},{"c":"b","s":1,"t":17,"v":-0.035},{"c":"b","s":1,"t":22,"v":-0.021},{"c":"b","s":1,"t":28,"v":-0.011},{"c":"b","s":1,"t":36,"v":-0.004},{"c":"b","s":1,"t":45,"v":0},
{"c":"b","s":2,"t":50,"v":0},{"c":"b","s":2,"t":50.6,"v":-0.275},{"c":"b","s":2,"t":51.5,"v":-0.45},{"c":"b","s":2,"t":52.75,"v":-0.5},{"c":"b","s":2,"t":54,"v":-0.425},{"c":"b","s":2,"t":55.5,"v":-0.31},{"c":"b","s":2,"t":57.5,"v":-0.21},{"c":"b","s":2,"t":60,"v":-0.135},{"c":"b","s":2,"t":63,"v":-0.085},{"c":"b","s":2,"t":67,"v":-0.05},{"c":"b","s":2,"t":72,"v":-0.03},{"c":"b","s":2,"t":78,"v":-0.015}
]
},
"spacing":10,
"resolve":{"scale":{"fill":"independent"},"legend":{"fill":"independent"}},
"vconcat":[
{"spacing":0,"resolve":{"scale":{"fill":"independent"},"legend":{"fill":"independent"}},"vconcat":[
 {"spacing":10,"resolve":{"scale":{"fill":"independent"},"legend":{"fill":"independent"}},"hconcat":[
  {"title":{"text":"A","dx":-3,"offset":-13},"width":249,"height":227,
   "resolve":{"scale":{"x":"independent","y":"independent"}},
   "layer":[
    {"data":{"name":"a"},"layer":[
     {"transform":[{"filter":"datum.xe > 0"}],"mark":{"type":"errorbar","color":"black","ticks":{"size":7,"thickness":1.5,"color":"black"},"rule":{"strokeWidth":1.5,"color":"black"}},
      "encoding":{"x":{"field":"x","type":"quantitative","title":"Fiber Volley (mV)","scale":{"domain":[0,0.6],"nice":false},"axis":{"values":[0,0.1,0.2,0.3,0.4,0.5,0.6],"format":".1f","tickSize":6,"labelPadding":4,"titlePadding":5}},
       "xError":{"field":"xe"},
       "y":{"field":"y","type":"quantitative","title":"fEPSP (mV)","scale":{"domain":[0,0.5],"nice":false},"axis":{"values":[0,0.1,0.2,0.3,0.4,0.5],"format":".1f","titleX":-41,"titleY":85,"tickSize":6,"labelPadding":2}}}},
     {"transform":[{"filter":"datum.ye > 0"}],"mark":{"type":"errorbar","color":"black","ticks":{"size":7,"thickness":1.5,"color":"black"},"rule":{"strokeWidth":1.5,"color":"black"}},
      "encoding":{"x":{"field":"x","type":"quantitative","title":"Fiber Volley (mV)"},"y":{"field":"y","type":"quantitative","title":"fEPSP (mV)"},"yError":{"field":"ye"}}},
     {"mark":{"type":"point","shape":"circle","filled":true,"stroke":"black","strokeWidth":1.5,"size":80,"opacity":1},
      "encoding":{"x":{"field":"x","type":"quantitative","title":"Fiber Volley (mV)"},"y":{"field":"y","type":"quantitative","title":"fEPSP (mV)"},
       "fill":{"field":"g","type":"nominal","scale":{"domain":["WT","TKO"],"range":["white","black"]},"legend":{"legendX":18.8,"legendY":8,"rowPadding":5}}}}
    ]},
    {"layer":[
     {"data":{"name":"ai"},"transform":[{"filter":"datum.g == 'WT'"}],"mark":{"type":"line","color":"black","strokeWidth":1.2},
      "encoding":{"x":{"field":"t","type":"quantitative","scale":{"domain":[-81.55,25.32],"nice":false,"zero":false},"axis":null},"y":{"field":"v","type":"quantitative","scale":{"domain":[-0.9909,1.0727],"nice":false,"zero":false},"axis":null},"detail":{"field":"a"}}},
     {"data":{"values":[{}]},"mark":{"type":"rule","color":"black","strokeWidth":2},"encoding":{"x":{"datum":0,"axis":null},"y":{"datum":0.045,"axis":null},"y2":{"datum":-0.35}}},
     {"data":{"values":[{}]},"mark":{"type":"text","align":"right","baseline":"middle","fontSize":16},"encoding":{"x":{"datum":24,"axis":null},"y":{"datum":0.127,"axis":null},"text":{"value":"WT"}}}
    ]},
    {"layer":[
     {"data":{"name":"ai"},"transform":[{"filter":"datum.g == 'TKO'"}],"mark":{"type":"line","color":"black","strokeWidth":1.2},
      "encoding":{"x":{"field":"t","type":"quantitative","scale":{"domain":[-81.55,25.32],"nice":false,"zero":false},"axis":null},"y":{"field":"v","type":"quantitative","scale":{"domain":[-0.3818,1.6818],"nice":false,"zero":false},"axis":null},"detail":{"field":"a"}}},
     {"data":{"values":[{}]},"mark":{"type":"rule","color":"black","strokeWidth":2},"encoding":{"x":{"datum":0,"axis":null},"y":{"datum":0.1,"axis":null},"y2":{"datum":-0.309}}},
     {"data":{"values":[{}]},"mark":{"type":"text","align":"right","baseline":"middle","fontSize":16},"encoding":{"x":{"datum":25.75,"axis":null},"y":{"datum":0.109,"axis":null},"text":{"value":"TKO"}}},
     {"data":{"values":[{}]},"mark":{"type":"rule","color":"black","strokeWidth":1.5},"encoding":{"x":{"datum":24.5,"axis":null},"y":{"datum":-0.127,"axis":null},"y2":{"datum":-0.227}}},
     {"data":{"values":[{}]},"mark":{"type":"rule","color":"black","strokeWidth":1.5},"encoding":{"x":{"datum":18.5,"axis":null},"x2":{"datum":24.5},"y":{"datum":-0.227,"axis":null}}}
    ]}
   ]},
  {"title":{"text":"B","dx":-38,"offset":-3.5},"width":133,"height":230,
   "resolve":{"scale":{"y":"independent"}},
   "layer":[
    {"layer":[
     {"data":{"name":"bt"},"transform":[{"filter":"datum.g == 'WT'"}],"mark":{"type":"line","color":"black","strokeWidth":2},
      "encoding":{"x":{"field":"t","type":"quantitative","scale":{"domain":[-8,50],"nice":false,"zero":false},"axis":null},"y":{"field":"v","type":"quantitative","scale":{"domain":[-1.196,0.198],"nice":false,"zero":false},"axis":null},"detail":{"field":"s"}}},
     {"data":{"values":[{}]},"mark":{"type":"text","align":"left","baseline":"middle","fontSize":16},"encoding":{"x":{"datum":-5.78,"axis":null},"y":{"datum":0.139,"axis":null},"text":{"value":"WT"}}},
     {"data":{"values":[{}]},"mark":{"type":"rule","color":"black","strokeWidth":1.5},"encoding":{"x":{"datum":43.35,"axis":null},"y":{"datum":-0.141,"axis":null},"y2":{"datum":-0.339}}},
     {"data":{"values":[{}]},"mark":{"type":"rule","color":"black","strokeWidth":1.5},"encoding":{"x":{"datum":33.2,"axis":null},"x2":{"datum":43.35},"y":{"datum":-0.339,"axis":null}}}
    ]},
    {"layer":[
     {"data":{"name":"bt"},"transform":[{"filter":"datum.g == 'TKO'"}],"mark":{"type":"line","color":"black","strokeWidth":2},
      "encoding":{"x":{"field":"t","type":"quantitative","axis":null},"y":{"field":"v","type":"quantitative","scale":{"domain":[-0.3533,1.0406],"nice":false,"zero":false},"axis":null},"detail":{"field":"s"}}},
     {"data":{"values":[{}]},"mark":{"type":"text","align":"left","baseline":"middle","fontSize":16},"encoding":{"x":{"datum":-5.78,"axis":null},"y":{"datum":0.162,"axis":null},"text":{"value":"TKO"}}},
     {"data":{"values":[{}]},"mark":{"type":"rule","color":"black","strokeWidth":1.5},"encoding":{"x":{"datum":43.35,"axis":null},"y":{"datum":-0.137,"axis":null},"y2":{"datum":-0.337}}},
     {"data":{"values":[{}]},"mark":{"type":"rule","color":"black","strokeWidth":1.5},"encoding":{"x":{"datum":33.2,"axis":null},"x2":{"datum":43.35},"y":{"datum":-0.337,"axis":null}}}
    ]}
   ]}
 ]},
 {"spacing":24,"resolve":{"scale":{"fill":"independent"},"legend":{"fill":"independent"}},"hconcat":[
  {"spacing":11,"bounds":"flush","resolve":{"scale":{"fill":"independent"},"legend":{"fill":"independent"}},"vconcat":[
   {"title":{"text":"C","dx":-3,"offset":1},"width":325,"height":73,
    "layer":[
     {"data":{"name":"c"},"transform":[{"filter":"datum.r == 1"}],"mark":{"type":"point","shape":"circle","filled":true,"stroke":"black","strokeWidth":1.3,"size":60,"opacity":1},
      "encoding":{"x":{"field":"t","type":"quantitative","scale":{"domain":[-20,75],"nice":false},"axis":null},
       "y":{"field":"y","type":"quantitative","title":"fEPSP (norm.)","scale":{"domain":[0.84,2],"nice":false,"zero":false},"axis":{"values":[1,1.5,2],"labelExpr":"datum.value == 1.5 ? '' : format(datum.value, 'd')","titleX":-38,"titleY":203,"labelPadding":4}},
       "fill":{"field":"g","type":"nominal","scale":{"domain":["WT","TKO"],"range":["white","black"]},"legend":{"legendX":13.8,"legendY":1,"rowPadding":4}}}},
     {"data":{"values":[{}]},"mark":{"type":"text","align":"left","baseline":"middle","fontSize":16},"encoding":{"x":{"datum":35},"y":{"datum":1.313},"text":{"value":"5stim @50Hz"}}}
    ]},
   {"width":325,"height":73,
    "layer":[
     {"data":{"name":"c"},"transform":[{"filter":"datum.r == 2"}],"mark":{"type":"point","shape":"circle","filled":true,"stroke":"black","strokeWidth":1.3,"size":60,"opacity":1},
      "encoding":{"x":{"field":"t","type":"quantitative","scale":{"domain":[-20,75],"nice":false},"axis":null},
       "y":{"field":"y","type":"quantitative","scale":{"domain":[0.84,2],"nice":false,"zero":false},"axis":{"values":[1,1.5,2],"labelExpr":"datum.value == 1.5 ? '' : format(datum.value, 'd')","title":null,"labelPadding":4}},
       "fill":{"field":"g","type":"nominal","scale":{"domain":["WT","TKO"],"range":["white","black"]},"legend":null}}},
     {"data":{"values":[{}]},"mark":{"type":"text","align":"left","baseline":"middle","fontSize":16},"encoding":{"x":{"datum":35},"y":{"datum":1.276},"text":{"value":"10stim @50Hz"}}}
    ]},
   {"width":325,"height":73,
    "layer":[
     {"data":{"name":"c"},"transform":[{"filter":"datum.r == 3"}],"mark":{"type":"point","shape":"circle","filled":true,"stroke":"black","strokeWidth":1.3,"size":60,"opacity":1},
      "encoding":{"x":{"field":"t","type":"quantitative","scale":{"domain":[-20,75],"nice":false},"axis":null},
       "y":{"field":"y","type":"quantitative","scale":{"domain":[0.84,2],"nice":false,"zero":false},"axis":{"values":[1,1.5,2],"labelExpr":"datum.value == 1.5 ? '' : format(datum.value, 'd')","title":null,"labelPadding":4}},
       "fill":{"field":"g","type":"nominal","scale":{"domain":["WT","TKO"],"range":["white","black"]},"legend":null}}},
     {"data":{"values":[{}]},"mark":{"type":"text","align":"left","baseline":"middle","fontSize":16},"encoding":{"x":{"datum":35},"y":{"datum":1.265},"text":{"value":"25stim @50Hz"}}}
    ]},
   {"width":325,"height":73,
    "layer":[
     {"data":{"name":"c"},"transform":[{"filter":"datum.r == 4"}],"mark":{"type":"point","shape":"circle","filled":true,"stroke":"black","strokeWidth":1.3,"size":60,"opacity":1},
      "encoding":{"x":{"field":"t","type":"quantitative","scale":{"domain":[-20,75],"nice":false},"axis":null},
       "y":{"field":"y","type":"quantitative","scale":{"domain":[0.84,2],"nice":false,"zero":false},"axis":{"values":[1,1.5,2],"labelExpr":"datum.value == 1.5 ? '' : format(datum.value, 'd')","title":null,"labelPadding":4}},
       "fill":{"field":"g","type":"nominal","scale":{"domain":["WT","TKO"],"range":["white","black"]},"legend":null}}},
     {"data":{"values":[{}]},"mark":{"type":"text","align":"left","baseline":"middle","fontSize":16},"encoding":{"x":{"datum":35},"y":{"datum":1.433},"text":{"value":"50stim @50Hz"}}}
    ]},
   {"width":325,"height":76,
    "layer":[
     {"data":{"name":"c"},"transform":[{"filter":"datum.r == 5 && datum.e > 0"}],"mark":{"type":"errorbar","color":"black","ticks":{"size":7,"thickness":1.5,"color":"black"},"rule":{"strokeWidth":1.5,"color":"black"}},
      "encoding":{"x":{"field":"t","type":"quantitative","title":"Time (s)","scale":{"domain":[-20,75],"nice":false},"axis":{"values":[-20,0,20,40,60],"labelExpr":"replace(datum.label, '\u2212', '-')","tickSize":6,"labelPadding":12,"titlePadding":4}},
       "y":{"field":"y","type":"quantitative","title":null,"scale":{"domain":[0.66,2],"nice":false,"zero":false},"axis":{"values":[1,1.5,2],"labelExpr":"datum.value == 1.5 ? '' : format(datum.value, 'd')","labelPadding":4}},"yError":{"field":"e"}}},
     {"data":{"name":"c"},"transform":[{"filter":"datum.r == 5"}],"mark":{"type":"point","shape":"circle","filled":true,"stroke":"black","strokeWidth":1.3,"size":60,"opacity":1},
      "encoding":{"x":{"field":"t","type":"quantitative","title":"Time (s)"},"y":{"field":"y","type":"quantitative","title":null},
       "fill":{"field":"g","type":"nominal","scale":{"domain":["WT","TKO"],"range":["white","black"]},"legend":null}}},
     {"data":{"values":[{}]},"mark":{"type":"text","align":"left","baseline":"middle","fontSize":16},"encoding":{"x":{"datum":35},"y":{"datum":1.194},"text":{"value":"400stim @100Hz"}}}
    ]}
  ]},
  {"width":89,"height":460,
   "resolve":{"scale":{"y":"independent"}},
   "layer":[
    {"layer":[
     {"data":{"name":"ct"},"transform":[{"filter":"datum.r == 1 && datum.c == 'g'"}],"mark":{"type":"line","color":"#9a9a9a","strokeWidth":1.6},
      "encoding":{"x":{"field":"t","type":"quantitative","scale":{"domain":[-9.6,31],"nice":false,"zero":false},"axis":null},"y":{"field":"v","type":"quantitative","scale":{"domain":[-3.3125,0.5208],"nice":false,"zero":false},"axis":null},"detail":{"field":"s"}}},
     {"data":{"name":"ct"},"transform":[{"filter":"datum.r == 1 && datum.c == 'b'"}],"mark":{"type":"line","color":"black","strokeWidth":1.6},
      "encoding":{"x":{"field":"t","type":"quantitative","axis":null},"y":{"field":"v","type":"quantitative","axis":null},"detail":{"field":"s"}}},
     {"data":{"values":[{}]},"mark":{"type":"text","align":"left","baseline":"middle","fontSize":16},"encoding":{"x":{"datum":-9.5,"axis":null},"y":{"datum":0.136,"axis":null},"text":{"value":"TKO"}}}
    ]},
    {"layer":[
     {"data":{"name":"ct"},"transform":[{"filter":"datum.r == 2 && datum.c == 'g'"}],"mark":{"type":"line","color":"#9a9a9a","strokeWidth":1.6},
      "encoding":{"x":{"field":"t","type":"quantitative","axis":null},"y":{"field":"v","type":"quantitative","scale":{"domain":[-2.6375,1.1958],"nice":false,"zero":false},"axis":null},"detail":{"field":"s"}}},
     {"data":{"name":"ct"},"transform":[{"filter":"datum.r == 2 && datum.c == 'b'"}],"mark":{"type":"line","color":"black","strokeWidth":1.6},
      "encoding":{"x":{"field":"t","type":"quantitative","axis":null},"y":{"field":"v","type":"quantitative","axis":null},"detail":{"field":"s"}}}
    ]},
    {"layer":[
     {"data":{"name":"ct"},"transform":[{"filter":"datum.r == 3 && datum.c == 'g'"}],"mark":{"type":"line","color":"#9a9a9a","strokeWidth":1.6},
      "encoding":{"x":{"field":"t","type":"quantitative","axis":null},"y":{"field":"v","type":"quantitative","scale":{"domain":[-1.9708,1.8625],"nice":false,"zero":false},"axis":null},"detail":{"field":"s"}}},
     {"data":{"name":"ct"},"transform":[{"filter":"datum.r == 3 && datum.c == 'b'"}],"mark":{"type":"line","color":"black","strokeWidth":1.6},
      "encoding":{"x":{"field":"t","type":"quantitative","axis":null},"y":{"field":"v","type":"quantitative","axis":null},"detail":{"field":"s"}}}
    ]},
    {"layer":[
     {"data":{"name":"ct"},"transform":[{"filter":"datum.r == 4 && datum.c == 'g'"}],"mark":{"type":"line","color":"#9a9a9a","strokeWidth":1.6},
      "encoding":{"x":{"field":"t","type":"quantitative","axis":null},"y":{"field":"v","type":"quantitative","scale":{"domain":[-1.29,2.5433],"nice":false,"zero":false},"axis":null},"detail":{"field":"s"}}},
     {"data":{"name":"ct"},"transform":[{"filter":"datum.r == 4 && datum.c == 'b'"}],"mark":{"type":"line","color":"black","strokeWidth":1.6},
      "encoding":{"x":{"field":"t","type":"quantitative","axis":null},"y":{"field":"v","type":"quantitative","axis":null},"detail":{"field":"s"}}}
    ]},
    {"layer":[
     {"data":{"name":"ct"},"transform":[{"filter":"datum.r == 5 && datum.c == 'g'"}],"mark":{"type":"line","color":"#9a9a9a","strokeWidth":1.6},
      "encoding":{"x":{"field":"t","type":"quantitative","axis":null},"y":{"field":"v","type":"quantitative","scale":{"domain":[-0.6375,3.1958],"nice":false,"zero":false},"axis":null},"detail":{"field":"s"}}},
     {"data":{"name":"ct"},"transform":[{"filter":"datum.r == 5 && datum.c == 'b'"}],"mark":{"type":"line","color":"black","strokeWidth":1.6},
      "encoding":{"x":{"field":"t","type":"quantitative","axis":null},"y":{"field":"v","type":"quantitative","axis":null},"detail":{"field":"s"}}},
     {"data":{"values":[{}]},"mark":{"type":"rule","color":"black","strokeWidth":1.5},"encoding":{"x":{"datum":22.7,"axis":null},"y":{"datum":-0.25,"axis":null},"y2":{"datum":-0.45}}},
     {"data":{"values":[{}]},"mark":{"type":"rule","color":"black","strokeWidth":1.5},"encoding":{"x":{"datum":12.7,"axis":null},"x2":{"datum":22.7},"y":{"datum":-0.45,"axis":null}}},
     {"data":{"values":[{}]},"mark":{"type":"text","align":"left","baseline":"middle","fontSize":15},"encoding":{"x":{"datum":24.1,"axis":null},"y":{"datum":-0.35,"axis":null},"text":{"value":"0.2mV"}}},
     {"data":{"values":[{}]},"mark":{"type":"text","align":"center","baseline":"middle","fontSize":15},"encoding":{"x":{"datum":18.8,"axis":null},"y":{"datum":-0.567,"axis":null},"text":{"value":"10ms"}}}
    ]}
   ]}
 ]}
]},
{"spacing":-2,"resolve":{"scale":{"fill":"independent"},"legend":{"fill":"independent"}},"vconcat":[
 {"spacing":33,"resolve":{"scale":{"fill":"independent"},"legend":{"fill":"independent"}},"hconcat":[
  {"title":{"text":"D","dx":-3,"offset":-6},"width":188,"height":136,
   "data":{"name":"d"},
   "layer":[
    {"transform":[{"filter":"datum.n <= 50"}],"mark":{"type":"line","color":"black","strokeWidth":1.5},
     "encoding":{"x":{"field":"n","type":"quantitative","title":"number of stimuli","scale":{"domain":[0,50,400,420],"range":[0,117.5,176,188]},"axis":{"values":[5,10,25,50,400],"labelPadding":7,"titlePadding":0}},
      "y":{"field":"y","type":"quantitative","title":"Amplitude (%)","scale":{"domain":[100,200],"nice":false,"zero":false},"axis":{"values":[100,140,180],"titleX":-36,"labelPadding":5}},"detail":{"field":"g"}}},
    {"transform":[{"filter":"datum.g == 'WT' && datum.e > 0"}],"mark":{"type":"errorbar","color":"black","ticks":{"size":8,"thickness":1.5,"color":"black"},"rule":{"strokeWidth":1.5,"color":"black"}},
     "encoding":{"x":{"field":"n","type":"quantitative","title":"number of stimuli"},"y":{"field":"y","type":"quantitative","title":"Amplitude (%)"},"yError":{"field":"e"}}},
    {"transform":[{"filter":"datum.g == 'WT'"}],"mark":{"type":"point","shape":"circle","filled":true,"stroke":"black","strokeWidth":1.5,"size":90,"opacity":1},
     "encoding":{"x":{"field":"n","type":"quantitative","title":"number of stimuli"},"y":{"field":"y","type":"quantitative","title":"Amplitude (%)"},"fill":{"field":"g","type":"nominal","scale":{"domain":["WT","TKO"],"range":["white","black"]},"legend":{"legendX":14.8,"legendY":-6,"rowPadding":2.4}}}},
    {"transform":[{"filter":"datum.g == 'TKO' && datum.e > 0"}],"mark":{"type":"errorbar","color":"black","ticks":{"size":8,"thickness":1.5,"color":"black"},"rule":{"strokeWidth":1.5,"color":"black"}},
     "encoding":{"x":{"field":"n","type":"quantitative","title":"number of stimuli"},"y":{"field":"y","type":"quantitative","title":"Amplitude (%)"},"yError":{"field":"e"}}},
    {"transform":[{"filter":"datum.g == 'TKO'"}],"mark":{"type":"point","shape":"circle","filled":true,"stroke":"black","strokeWidth":1.5,"size":90,"opacity":1},
     "encoding":{"x":{"field":"n","type":"quantitative","title":"number of stimuli"},"y":{"field":"y","type":"quantitative","title":"Amplitude (%)"},"fill":{"field":"g","type":"nominal","scale":{"domain":["WT","TKO"],"range":["white","black"]},"legend":{"legendX":14.8,"legendY":-6,"rowPadding":2.4}}}}
   ]},
  {"title":{"text":"E","dx":-13,"offset":-6},"width":197,"height":136,
   "data":{"name":"e"},
   "layer":[
    {"transform":[{"filter":"datum.g == 'WT'"}],"mark":{"type":"errorbar","color":"black","ticks":{"size":9,"thickness":1.5,"color":"black"},"rule":{"strokeWidth":1.5,"color":"black"}},
     "encoding":{"x":{"field":"n","type":"quantitative","title":"number of stimuli","scale":{"domain":[0,50,400,420],"range":[0,124,185,197]},"axis":{"values":[5,10,25,50,400],"labelPadding":7,"titlePadding":0}},
      "y":{"field":"y","type":"quantitative","title":"Tau (s)","scale":{"domain":[4,10],"nice":false,"zero":false},"axis":{"values":[4,6,8,10],"titleX":-25,"labelPadding":5}},"yError":{"field":"e"}}},
    {"transform":[{"filter":"datum.g == 'WT'"}],"mark":{"type":"point","shape":"circle","filled":true,"stroke":"black","strokeWidth":1.5,"size":90,"opacity":1},
     "encoding":{"x":{"field":"n","type":"quantitative","title":"number of stimuli"},"y":{"field":"y","type":"quantitative","title":"Tau (s)"},"fill":{"field":"g","type":"nominal","scale":{"domain":["WT","TKO"],"range":["white","black"]},"legend":{"legendX":16.4,"legendY":-6,"rowPadding":3}}}},
    {"transform":[{"filter":"datum.g == 'TKO'"}],"mark":{"type":"errorbar","color":"black","ticks":{"size":9,"thickness":1.5,"color":"black"},"rule":{"strokeWidth":1.5,"color":"black"}},
     "encoding":{"x":{"field":"n","type":"quantitative","title":"number of stimuli"},"y":{"field":"y","type":"quantitative","title":"Tau (s)"},"yError":{"field":"e"}}},
    {"transform":[{"filter":"datum.g == 'TKO'"}],"mark":{"type":"point","shape":"circle","filled":true,"stroke":"black","strokeWidth":1.5,"size":90,"opacity":1},
     "encoding":{"x":{"field":"n","type":"quantitative","title":"number of stimuli"},"y":{"field":"y","type":"quantitative","title":"Tau (s)"},"fill":{"field":"g","type":"nominal","scale":{"domain":["WT","TKO"],"range":["white","black"]},"legend":{"legendX":16.4,"legendY":-6,"rowPadding":3}}}}
   ]}
 ]},
 {"spacing":7,"resolve":{"scale":{"fill":"independent"},"legend":{"fill":"independent"}},"hconcat":[
  {"title":{"text":"F","dx":-3,"offset":0.5},"width":325,"height":137,
   "data":{"name":"f"},
   "mark":{"type":"point","shape":"circle","filled":true,"stroke":"black","strokeWidth":1.3,"size":55,"opacity":1},
   "encoding":{"x":{"field":"t","type":"quantitative","title":"Time (s)","scale":{"domain":[-20,75],"nice":false},"axis":{"values":[-20,0,20,40,60],"labelExpr":"replace(datum.label, '\u2212', '-')","tickSize":6,"labelPadding":2,"titlePadding":4}},
    "y":{"field":"y","type":"quantitative","title":"PPR (norm.)","scale":{"domain":[0.735,1.085],"nice":false,"zero":false},"axis":{"values":[0.8,1.0],"format":".1f","titleX":-38,"labelPadding":5}},
    "fill":{"field":"g","type":"nominal","scale":{"domain":["WT","TKO"],"range":["white","black"]},"legend":{"legendX":254.4,"legendY":92,"rowPadding":5}}}},
  {"width":138,"height":137,
   "layer":[
    {"data":{"name":"ft"},"transform":[{"filter":"datum.c == 'g'"}],"mark":{"type":"line","color":"#9a9a9a","strokeWidth":1.6},
     "encoding":{"x":{"field":"t","type":"quantitative","scale":{"domain":[-6,80.25],"nice":false,"zero":false},"axis":null},"y":{"field":"v","type":"quantitative","scale":{"domain":[-1.1196,0.3696],"nice":false,"zero":false},"axis":null},"detail":{"field":"s"}}},
    {"data":{"name":"ft"},"transform":[{"filter":"datum.c == 'b'"}],"mark":{"type":"line","color":"black","strokeWidth":1.6},
     "encoding":{"x":{"field":"t","type":"quantitative","axis":null},"y":{"field":"v","type":"quantitative","axis":null},"detail":{"field":"s"}}},
    {"data":{"values":[{}]},"mark":{"type":"text","align":"left","baseline":"middle","fontSize":16},"encoding":{"x":{"datum":4.2,"axis":null},"y":{"datum":0.152,"axis":null},"text":{"value":"TKO"}}},
    {"data":{"values":[{}]},"mark":{"type":"rule","color":"black","strokeWidth":1.5},"encoding":{"x":{"datum":43.1,"axis":null},"y":{"datum":-0.48,"axis":null},"y2":{"datum":-0.68}}},
    {"data":{"values":[{}]},"mark":{"type":"rule","color":"black","strokeWidth":1.5},"encoding":{"x":{"datum":23.1,"axis":null},"x2":{"datum":43.1},"y":{"datum":-0.68,"axis":null}}},
    {"data":{"values":[{}]},"mark":{"type":"text","align":"right","baseline":"middle","fontSize":15},"encoding":{"x":{"datum":41.7,"axis":null},"y":{"datum":-0.58,"axis":null},"text":{"value":"0.2mV"}}},
    {"data":{"values":[{}]},"mark":{"type":"text","align":"center","baseline":"middle","fontSize":15},"encoding":{"x":{"datum":29.2,"axis":null},"y":{"datum":-0.83,"axis":null},"text":{"value":"20ms"}}}
   ]}
 ]}
]}
]
}
